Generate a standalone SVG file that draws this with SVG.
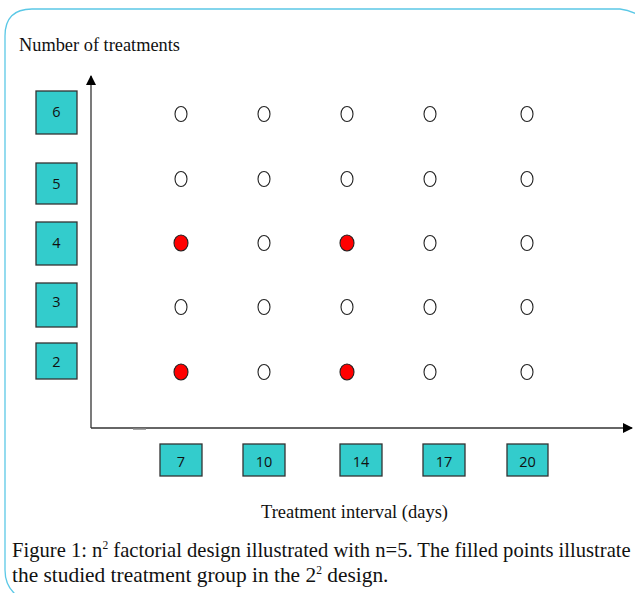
<svg xmlns="http://www.w3.org/2000/svg" width="635" height="593" viewBox="0 0 635 593">
<style>
.box{fill:#33cccc;stroke:#333;stroke-width:1.3}
.lbl{font-family:"Open Sans","DejaVu Sans",sans-serif;font-size:14.5px;fill:#111;text-anchor:middle}
.o{fill:#fff;stroke:#222;stroke-width:1.1}
.f{fill:#ff0000;stroke:#222;stroke-width:1.1}
.serif{font-family:"Liberation Serif",serif;fill:#111}
.ax{stroke:#333;stroke-width:1.3;fill:none}
</style>
<defs>
<marker id="ah" markerWidth="10" markerHeight="10" refX="9" refY="5" orient="auto" markerUnits="userSpaceOnUse"><path d="M0,0 L10,5 L0,10 z" fill="#000"/></marker>
</defs>
<rect width="635" height="593" fill="#fff"/>
<path d="M15,594 Q5,585 5,570 L5,36 Q5,9 32,9 L620,9 Q630,10 640,16" fill="none" stroke="#5bc8e6" stroke-width="1.3"/>
<text class="serif" x="19" y="51" font-size="18" textLength="161" lengthAdjust="spacingAndGlyphs">Number of treatments</text>
<g id="connectors">
<line class="ax" x1="91" y1="428" x2="91" y2="76" marker-end="url(#ah)"/>
<line class="ax" x1="91" y1="428" x2="632" y2="428" marker-end="url(#ah)"/>
<line x1="133" y1="429" x2="146" y2="429" stroke="#888" stroke-width="1.5"/>
</g>
<g id="y6"><rect class="box" x="36" y="91" width="41" height="43"/><text class="lbl" x="56.5" y="117">6</text></g>
<g id="y5"><rect class="box" x="36" y="163" width="41" height="41"/><text class="lbl" x="56.5" y="189">5</text></g>
<g id="y4"><rect class="box" x="36" y="222" width="41" height="43"/><text class="lbl" x="56.5" y="248">4</text></g>
<g id="y3"><rect class="box" x="36" y="283" width="41" height="44"/><text class="lbl" x="56.5" y="307">3</text></g>
<g id="y2"><rect class="box" x="36" y="343" width="41" height="36"/><text class="lbl" x="56.5" y="367">2</text></g>
<g id="x7"><rect class="box" x="160" y="444" width="42" height="32"/><text class="lbl" x="181" y="467">7</text></g>
<g id="x10"><rect class="box" x="243" y="444" width="42" height="32"/><text class="lbl" x="264" y="467">10</text></g>
<g id="x14"><rect class="box" x="340" y="444" width="42" height="32"/><text class="lbl" x="361" y="467">14</text></g>
<g id="x17"><rect class="box" x="423" y="444" width="42" height="32"/><text class="lbl" x="444" y="467">17</text></g>
<g id="x20"><rect class="box" x="507" y="444" width="41" height="32"/><text class="lbl" x="527.5" y="467">20</text></g>
<g id="points">
<ellipse class="o" cx="181" cy="114" rx="6" ry="7.5"/><ellipse class="o" cx="264" cy="114" rx="6" ry="7.5"/><ellipse class="o" cx="347" cy="114" rx="6" ry="7.5"/><ellipse class="o" cx="430" cy="114" rx="6" ry="7.5"/><ellipse class="o" cx="527" cy="114" rx="6" ry="7.5"/>
<ellipse class="o" cx="181" cy="179" rx="6" ry="7.5"/><ellipse class="o" cx="264" cy="179" rx="6" ry="7.5"/><ellipse class="o" cx="347" cy="179" rx="6" ry="7.5"/><ellipse class="o" cx="430" cy="179" rx="6" ry="7.5"/><ellipse class="o" cx="527" cy="179" rx="6" ry="7.5"/>
<ellipse class="f" cx="181" cy="243" rx="7" ry="8"/><ellipse class="o" cx="264" cy="243" rx="6" ry="7.5"/><ellipse class="f" cx="347" cy="243" rx="7" ry="8"/><ellipse class="o" cx="430" cy="243" rx="6" ry="7.5"/><ellipse class="o" cx="527" cy="243" rx="6" ry="7.5"/>
<ellipse class="o" cx="181" cy="307" rx="6" ry="7.5"/><ellipse class="o" cx="264" cy="307" rx="6" ry="7.5"/><ellipse class="o" cx="347" cy="307" rx="6" ry="7.5"/><ellipse class="o" cx="430" cy="307" rx="6" ry="7.5"/><ellipse class="o" cx="527" cy="307" rx="6" ry="7.5"/>
<ellipse class="f" cx="181" cy="372" rx="7" ry="8"/><ellipse class="o" cx="264" cy="372" rx="6" ry="7.5"/><ellipse class="f" cx="347" cy="372" rx="7" ry="8"/><ellipse class="o" cx="430" cy="372" rx="6" ry="7.5"/><ellipse class="o" cx="527" cy="372" rx="6" ry="7.5"/>
</g>
<text class="serif" x="261" y="518" font-size="18" textLength="187" lengthAdjust="spacingAndGlyphs">Treatment interval (days)</text>
<text class="serif" x="12" y="557" font-size="20.6">Figure 1: n<tspan font-size="11.5" dy="-8">2</tspan><tspan dy="8"> factorial design illustrated with n=5. The filled points illustrate</tspan></text>
<text class="serif" x="12" y="582" font-size="21.4">the studied treatment group in the 2<tspan font-size="11.5" dy="-8">2</tspan><tspan dy="8"> design.</tspan></text>
</svg>
